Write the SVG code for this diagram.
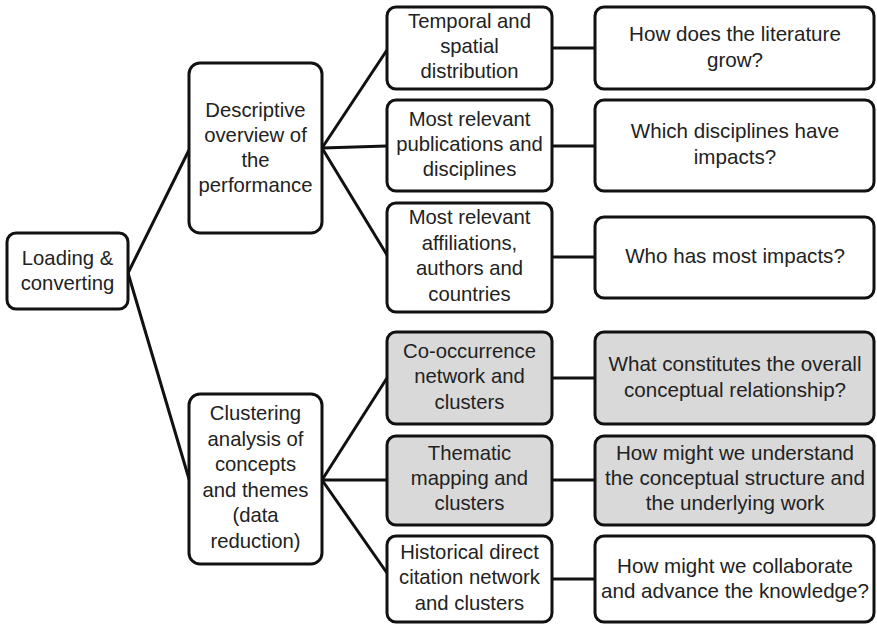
<svg xmlns="http://www.w3.org/2000/svg" width="877" height="624" viewBox="0 0 877 624">
<style>
.box{fill:#fff;stroke:#111;stroke-width:3}
.grey{fill:#d9d9d9}
.con line{stroke:#111;stroke-width:3;stroke-linecap:round}
text{font-family:"Liberation Sans",Arial,sans-serif;font-size:20.3px;fill:#222;text-anchor:middle}
.q text{font-size:20.6px}
</style>
<rect width="877" height="624" fill="#fff"/>
<g id="connectors" class="con">
<line x1="128" y1="273" x2="189" y2="150"/>
<line x1="128" y1="273" x2="189" y2="479"/>
<line x1="322" y1="148" x2="387" y2="50"/>
<line x1="322" y1="148" x2="387" y2="146"/>
<line x1="322" y1="148" x2="387" y2="255"/>
<line x1="322" y1="480" x2="387" y2="378"/>
<line x1="322" y1="480" x2="387" y2="480"/>
<line x1="322" y1="480" x2="387" y2="573"/>
<line x1="552" y1="48" x2="595" y2="48"/>
<line x1="552" y1="146" x2="595" y2="146"/>
<line x1="552" y1="257" x2="595" y2="257"/>
<line x1="552" y1="378" x2="595" y2="378"/>
<line x1="552" y1="480" x2="595" y2="480"/>
<line x1="552" y1="579" x2="595" y2="579"/>
</g>
<g id="n-loading"><rect class="box" x="7" y="233" width="121" height="76" rx="9"/>
<text x="67.5" y="265">Loading &amp;</text><text x="67.5" y="290">converting</text></g>
<g id="n-descriptive"><rect class="box" x="189" y="63" width="133" height="170" rx="11"/>
<text x="255.5" y="117">Descriptive</text><text x="255.5" y="142">overview of</text><text x="255.5" y="167">the</text><text x="255.5" y="192">performance</text></g>
<g id="n-clustering"><rect class="box" x="189" y="394" width="133" height="170" rx="11"/>
<text x="255.5" y="420">Clustering</text><text x="255.5" y="445.5">analysis of</text><text x="255.5" y="471">concepts</text><text x="255.5" y="496.5">and themes</text><text x="255.5" y="522">(data</text><text x="255.5" y="547.5">reduction)</text></g>
<g id="n-temporal"><rect class="box" x="387" y="7" width="165" height="82" rx="9"/>
<text x="469.5" y="28">Temporal and</text><text x="469.5" y="53">spatial</text><text x="469.5" y="78">distribution</text></g>
<g id="n-publications"><rect class="box" x="387" y="100" width="165" height="91" rx="9"/>
<text x="469.5" y="126">Most relevant</text><text x="469.5" y="151">publications and</text><text x="469.5" y="176">disciplines</text></g>
<g id="n-affiliations"><rect class="box" x="387" y="203" width="165" height="109" rx="9"/>
<text x="469.5" y="224">Most relevant</text><text x="469.5" y="250">affiliations,</text><text x="469.5" y="275">authors and</text><text x="469.5" y="301">countries</text></g>
<g id="n-cooccurrence"><rect class="box grey" x="387" y="332" width="165" height="92" rx="9"/>
<text x="469.5" y="358">Co-occurrence</text><text x="469.5" y="383">network and</text><text x="469.5" y="409">clusters</text></g>
<g id="n-thematic"><rect class="box grey" x="387" y="436" width="165" height="89" rx="9"/>
<text x="469.5" y="460">Thematic</text><text x="469.5" y="485">mapping and</text><text x="469.5" y="510">clusters</text></g>
<g id="n-historical"><rect class="box" x="387" y="536" width="165" height="86" rx="9"/>
<text x="469.5" y="559">Historical direct</text><text x="469.5" y="584">citation network</text><text x="469.5" y="610">and clusters</text></g>
<g id="q-grow" class="q"><rect class="box" x="595" y="7" width="279" height="82" rx="9"/>
<text x="735" y="41">How does the literature</text><text x="735" y="67">grow?</text></g>
<g id="q-disciplines" class="q"><rect class="box" x="595" y="100" width="279" height="91" rx="9"/>
<text x="735" y="138">Which disciplines have</text><text x="735" y="164">impacts?</text></g>
<g id="q-who" class="q"><rect class="box" x="595" y="217" width="279" height="81" rx="9"/>
<text x="735" y="263">Who has most impacts?</text></g>
<g id="q-overall" class="q"><rect class="box grey" x="595" y="332" width="279" height="92" rx="9"/>
<text x="735" y="371">What constitutes the overall</text><text x="735" y="397">conceptual relationship?</text></g>
<g id="q-understand" class="q"><rect class="box grey" x="595" y="436" width="279" height="89" rx="9"/>
<text x="735" y="460">How might we understand</text><text x="735" y="485">the conceptual structure and</text><text x="735" y="510">the underlying work</text></g>
<g id="q-collaborate" class="q"><rect class="box" x="595" y="536" width="279" height="86" rx="9"/>
<text x="735" y="573">How might we collaborate</text><text x="735" y="598">and advance the knowledge?</text></g>
</svg>
